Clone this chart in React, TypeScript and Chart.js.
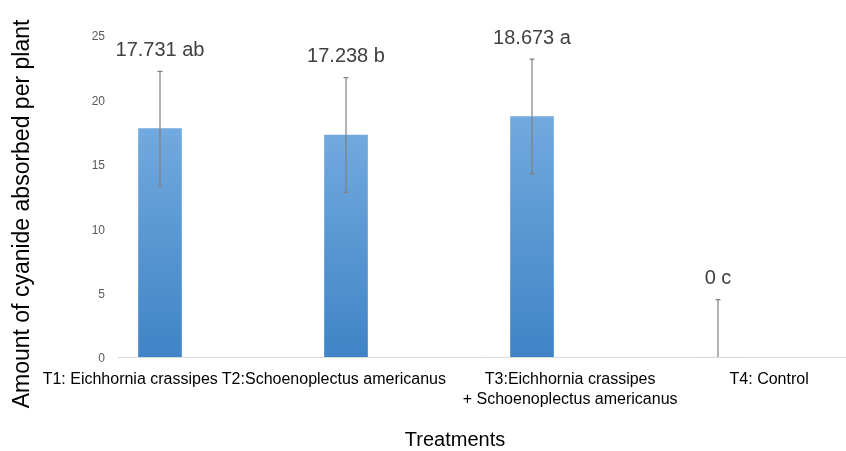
import React, { useEffect, useRef } from "react";
import { Chart, registerables } from "chart.js";

Chart.register(...registerables);

const categories: string[][] = [
  ["T1: Eichhornia crassipes"],
  ["T2:Schoenoplectus americanus"],
  ["T3:Eichhornia crassipes", "+ Schoenoplectus americanus"],
  ["T4: Control"],
];
const values: number[] = [17.731, 17.238, 18.673, 0];
const errors: number[] = [4.45, 4.45, 4.45, 4.45];
const letters: string[] = ["ab", "b", "a", "c"];
const yTicks: number[] = [0, 5, 10, 15, 20, 25];

const FONT = "'Liberation Sans', Arial, sans-serif";
// horizontal shift (in category units) of each x tick label relative to its bar
const labelShift = [-0.16, -0.065, 0.205, 0.275];

export default function App() {
  const ref = useRef<HTMLCanvasElement | null>(null);

  useEffect(() => {
    document.body.style.margin = "0";
    const canvas = ref.current!;

    const extras = {
      id: "extras",
      afterDatasetsDraw(chart: any) {
        const c = chart.ctx;
        const ys = chart.scales.y;
        const meta = chart.getDatasetMeta(0);
        c.save();
        values.forEach((v, i) => {
          const x = meta.data[i].x;
          const hi = v + errors[i];
          const lo = Math.max(0, v - errors[i]);
          const yHi = ys.getPixelForValue(hi);
          const yLo = ys.getPixelForValue(lo);
          c.strokeStyle = "#808080";
          c.lineWidth = 1.2;
          c.beginPath();
          c.moveTo(x, yHi);
          c.lineTo(x, yLo);
          c.moveTo(x - 2.5, yHi);
          c.lineTo(x + 2.5, yHi);
          if (v - errors[i] >= 0) {
            c.moveTo(x - 2.5, yLo);
            c.lineTo(x + 2.5, yLo);
          }
          c.stroke();
          c.fillStyle = "#404040";
          c.font = `20px ${FONT}`;
          c.textAlign = "center";
          c.textBaseline = "middle";
          c.fillText(`${v === 0 ? "0" : v.toFixed(3)} ${letters[i]}`, x, yHi - 21);
        });
        // axis titles
        c.fillStyle = "#000000";
        c.font = `20px ${FONT}`;
        c.textAlign = "center";
        c.textBaseline = "middle";
        c.fillText("Treatments", 455, 440);
        c.translate(23, 214);
        c.rotate(-Math.PI / 2);
        c.font = `23px ${FONT}`;
        c.fillText("Amount of cyanide absorbed per plant", 0, 0);
        c.restore();
      },
    };

    const chart = new Chart(canvas, {
      type: "bar",
      data: {
        datasets: [
          {
            data: values.map((v, i) => ({ x: i, y: v })),
            barThickness: 43,
            borderWidth: 0,
            backgroundColor: (ctx: any) => {
              const ch = ctx.chart;
              const ys = ch.scales?.y;
              const v = ctx.raw?.y ?? 0;
              if (!ys || !ch.chartArea) return "#5b9bd5";
              const top = ys.getPixelForValue(v);
              const bottom = ys.getPixelForValue(0);
              if (!isFinite(top) || !isFinite(bottom) || bottom - top < 1) return "#e8eef5";
              const g = ch.ctx.createLinearGradient(0, top, 0, bottom);
              g.addColorStop(0, "#72a9de");
              g.addColorStop(1, "#3f84c7");
              return g;
            },
          },
        ],
      },
      options: {
        animation: false,
        responsive: true,
        maintainAspectRatio: false,
        layout: { padding: { top: 35, left: 0, right: 0, bottom: 0 } },
        plugins: { legend: { display: false }, tooltip: { enabled: false } },
        scales: {
          x: {
            type: "linear",
            offset: false,
            min: -42 / 186,
            max: 3 + 128 / 186,
            grid: { display: false, drawTicks: false, offset: false },
            border: { display: true, color: "#d9d9d9", width: 1 },
            afterBuildTicks: (scale: any) => {
              scale.ticks = categories.map((_, i) => ({ value: i + labelShift[i] }));
            },
            afterFit: (scale: any) => {
              scale.height = 94;
            },
            ticks: {
              autoSkip: false,
              maxRotation: 0,
              minRotation: 0,
              padding: 13,
              color: "#000000",
              font: { family: FONT, size: 16, lineHeight: 1.22 },
              callback: (_v: any, i: number) => categories[i],
            },
          },
          y: {
            min: 0,
            max: 25,
            grid: { display: false, drawTicks: false },
            border: { display: false },
            afterBuildTicks: (scale: any) => {
              scale.ticks = yTicks.map((v) => ({ value: v }));
            },
            afterFit: (scale: any) => {
              scale.width = 118;
            },
            ticks: {
              padding: 13,
              labelOffset: 2,
              color: "#595959",
              font: { family: FONT, size: 12 },
            },
          },
        },
      },
      plugins: [extras],
    } as any);

    return () => chart.destroy();
  }, []);

  return (
    <div style={{ position: "fixed", left: 0, top: 0, width: 846, height: 451, background: "#fff" }}>
      <canvas ref={ref} />
    </div>
  );
}
